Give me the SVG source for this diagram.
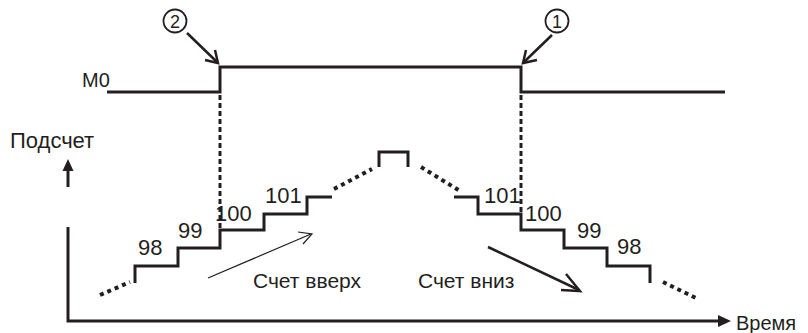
<svg xmlns="http://www.w3.org/2000/svg" width="808" height="333" viewBox="0 0 808 333">
<defs>
<style>
.t{font-family:"Liberation Sans",Arial,sans-serif;font-size:22px;fill:#231f20}
.s{fill:none;stroke:#231f20;stroke-width:3;stroke-linejoin:miter;stroke-linecap:butt}
.dot{fill:none;stroke:#231f20;stroke-width:4;stroke-dasharray:4 4}
.dash{fill:none;stroke:#231f20;stroke-width:3;stroke-dasharray:5 3}
.thin{fill:none;stroke:#231f20;stroke-width:1.2}
.med{fill:none;stroke:#231f20;stroke-width:2.5}
</style>
</defs>
<rect width="808" height="333" fill="#fff"/>
<g id="signal-M0">
<text class="t" x="82" y="87" style="font-size:20px">M0</text>
<polyline class="s" points="107,92 220,92 220,67 521,67 521,92 725,92"/>
</g>
<g id="marker-2">
<circle cx="175" cy="21" r="11.5" fill="none" stroke="#231f20" stroke-width="1.8"/>
<text class="t" x="175" y="27.5" text-anchor="middle" style="font-size:18px">2</text>
</g>
<g id="marker-1">
<circle cx="557" cy="21" r="11.5" fill="none" stroke="#231f20" stroke-width="1.8"/>
<text class="t" x="557" y="27.5" text-anchor="middle" style="font-size:18px">1</text>
</g>
<g id="axes">
<text class="t" x="10" y="148">Подсчет</text>
<line class="s" x1="68" y1="187" x2="68" y2="168"/>
<polygon points="68,159 62.5,171 73.5,171" fill="#231f20"/>
<polyline class="s" points="68,227 68,321 722,321"/>
<polygon points="731,321 718,315 718,327" fill="#231f20"/>
<text class="t" x="736" y="330" style="font-size:20px">Время</text>
</g>
<g id="counter">
<line class="dot" x1="100" y1="295" x2="130" y2="282"/>
<polyline class="s" points="135,283 135,266 178,266 178,248 220,248 220,230 264,230 264,214 307,214 307,197 332,197"/>
<line class="dot" x1="334" y1="189" x2="372" y2="169"/>
<polyline class="s" points="379,167 379,152 408,152 408,167"/>
<line class="dot" x1="421" y1="167" x2="460" y2="191"/>
<polyline class="s" points="454,197 478,197 478,214 521,214 521,230 564,230 564,248 607,248 607,266 650,266 650,283"/>
<line class="dot" x1="663" y1="282" x2="696" y2="298"/>
<text class="t" x="138" y="255">98</text>
<text class="t" x="178" y="238">99</text>
<text class="t" x="215" y="221">100</text>
<text class="t" x="265" y="203">101</text>
<text class="t" x="484" y="203">101</text>
<text class="t" x="525" y="221">100</text>
<text class="t" x="577" y="238">99</text>
<text class="t" x="617" y="254">98</text>
</g>
<g id="labels">
<text class="t" x="253" y="288" style="font-size:21px">Счет вверх</text>
<text class="t" x="418" y="288" style="font-size:21px">Счет вниз</text>
</g>
<g id="connectors">
<line class="dash" x1="220" y1="95" x2="220" y2="230"/>
<line class="dash" x1="521" y1="95" x2="521" y2="214"/>
<line class="med" x1="187" y1="33" x2="217" y2="62"/>
<polyline class="med" points="205,60 218,63 215,50"/>
<line class="med" x1="552" y1="35" x2="524" y2="62"/>
<polyline class="med" points="526,50 523,63 537,60"/>
<line class="thin" x1="208" y1="278" x2="311" y2="234"/>
<polyline class="thin" points="298,232 312,234 303,244"/>
<line class="med" x1="488" y1="247" x2="579" y2="290"/>
<polyline class="med" points="566,274 580,291 561,290"/>
</g>
</svg>
